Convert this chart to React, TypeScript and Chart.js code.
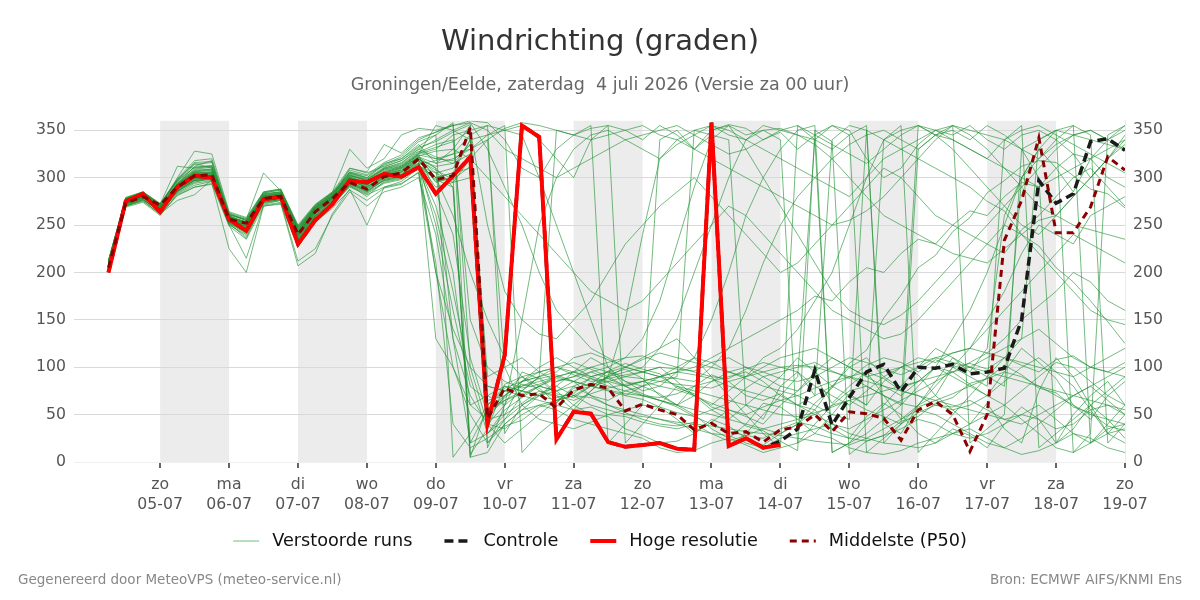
import React, { useEffect, useRef } from 'react';
import { Chart, registerables } from 'chart.js';

Chart.register(...registerables);

const FONT = "'DejaVu Sans', sans-serif";

// time axis: hours since 04-07 00:00, 6-hourly steps
const hours = Array.from({ length: 60 }, (_, i) => 6 + i * 6);

const tickHours = [24, 48, 72, 96, 120, 144, 168, 192, 216, 240, 264, 288, 312, 336, 360];
const dayNames = ['zo', 'ma', 'di', 'wo', 'do', 'vr', 'za', 'zo', 'ma', 'di', 'wo', 'do', 'vr', 'za', 'zo'];
const dayDates = ['05-07', '06-07', '07-07', '08-07', '09-07', '10-07', '11-07', '12-07', '13-07', '14-07', '15-07', '16-07', '17-07', '18-07', '19-07'];
const shadeStart = [24, 72, 120, 168, 216, 264, 312];
const shadeEnd = [48, 96, 144, 192, 240, 288, 336];
const yTicks = [0, 50, 100, 150, 200, 250, 300, 350];

const hires = [
  200, 275, 283, 264, 290, 302, 300, 256, 244, 277,
  280, 230, 255, 272, 297, 295, 304, 301, 311, 283,
  302, 322, 41, 113, 355, 343, 24, 53, 51, 21,
  16, 18, 20, 14, 13, 358, 17, 25, 15, 18,
];

const control = [
  200, 275, 283, 264, 290, 302, 300, 256, 244, 277,
  280, 230, 255, 272, 297, 295, 304, 301, 311, 283,
  302, 322, 41, 113, 355, 343, 24, 53, 51, 21,
  16, 18, 20, 14, 13, 358, 17, 25, 15, 22,
  35, 97, 39, 68, 95, 103, 74, 100, 99, 103,
  93, 95, 99, 150, 297, 273, 283, 338, 341, 329,
];

const p50 = [
  205, 273, 280, 271, 290, 302, 303, 256, 252, 278,
  280, 240, 264, 278, 295, 288, 301, 305, 320, 298,
  302, 353, 46, 78, 70, 72, 57, 76, 82, 78,
  54, 61, 55, 50, 34, 41, 30, 32, 21, 34,
  37, 50, 32, 53, 51, 46, 23, 55, 64, 50,
  11, 50, 234, 276, 342, 242, 242, 269, 322, 308,
];

const m01 = [208,276,282,266,292,305,300,254,246,280, 282,236,262,276,300,292,305,310,322,300, 305,340,45,70,82,78,62,80,88,84, 70,66,58,45,30,42,55,48,40,60, 75,90,62,80,95,70,45,60,85,110, 95,120,260,300,330,310,285,320,300,290];
const m02 = [210,274,279,268,288,300,306,260,250,276, 279,240,266,280,296,285,298,302,318,296, 300,8,35,82,90,75,68,72,90,95, 85,80,72,60,50,35,25,40,62,58, 45,30,50,72,60,85,100,92,70,55, 40,62,35,20,75,110,90,60,30,50];
const m03 = [212,278,284,272,312,310,312,262,255,282, 285,245,270,283,305,300,315,320,335,315, 330,355,15,60,95,88,70,55,75,92, 98,88,70,60,80,92,85,70,65,72, 60,55,80,100,110,90,78,85,100,95, 82,70,95,120,105,88,60,45,70,85];
const m04 = [206,270,276,262,276,282,298,250,240,272, 276,230,258,272,290,282,290,296,310,260, 180,90,30,55,68,80,75,60,50,48, 35,28,20,22,30,45,38,25,18,30, 40,55,35,25,48,62,50,30,20,35, 28,15,40,58,45,20,35,60,45,25];
const m05 = [209,275,281,267,293,312,318,258,248,279, 281,238,263,279,310,305,312,318,330,340, 350,358,330,290,250,200,160,140,120,110, 100,95,90,88,85,100,120,160,210,250, 280,300,320,335,345,350,340,330,345,350, 340,355,345,330,320,335,345,350,340,330];
const m06 = [207,272,280,264,286,295,300,252,236,275, 278,228,256,270,292,280,296,300,312,305, 295,320,60,78,85,90,72,68,80,76, 72,70,65,58,48,55,62,78,90,95, 100,105,96,88,102,110,105,95,108,100, 104,98,110,102,95,108,112,100,95,105];
const m07 = [211,277,283,270,300,328,325,264,258,285, 288,250,272,285,330,310,320,345,352,350, 355,360,358,340,310,300,330,345,352,355, 350,340,355,345,330,350,356,352,340,348, 330,345,355,350,320,300,310,335,350,345, 355,340,330,345,350,340,325,300,320,335];
const m08 = [205,271,277,265,285,298,302,256,245,277, 280,235,260,275,294,288,300,304,316,130, 100,50,20,45,70,80,90,85,70,65, 75,80,85,90,350,345,340,60,45,80, 95,70,340,355,350,40,30,60,70,100, 90,80,340,330,300,20,50,70,85,60];
const m09 = [213,279,285,273,298,315,310,260,253,284, 287,248,270,284,302,298,310,316,328,320, 318,335,90,100,110,95,85,90,100,105, 110,112,105,100,95,90,88,98,105,100, 95,80,70,60,75,90,100,110,105,115, 120,150,180,220,250,240,230,260,270,280];
const m10 = [204,269,274,260,282,290,294,225,200,270, 273,207,220,262,288,250,290,294,305,200, 140,100,80,75,70,65,60,55,58,50, 48,42,38,35,40,30,22,28,35,40, 45,50,60,65,55,48,40,52,60,58, 65,55,45,50,60,45,30,20,35,40];
const m11 = [208,273,280,268,290,303,305,257,252,278, 280,242,265,278,297,290,302,306,320,310, 290,5,60,80,75,70,85,90,95,88, 80,85,90,95,92,88,80,75,70,65, 60,70,80,90,95,88,75,70,60,55, 60,70,85,100,110,95,80,55,30,20];
const m12 = [210,276,282,270,292,306,304,258,254,280, 283,244,268,281,303,296,308,312,325,330, 345,350,250,180,150,135,130,150,170,200, 230,250,270,285,300,280,260,240,220,200, 210,230,250,270,290,310,300,280,260,250, 240,230,220,245,260,280,300,310,290,270];
const m13 = [207,274,281,266,287,299,301,255,249,277, 279,239,264,277,298,291,300,303,318,295, 300,320,340,100,60,45,40,35,42,50, 55,60,58,52,48,40,32,28,25,35, 42,38,30,25,22,28,35,45,40,30, 25,30,40,50,45,35,40,55,60,50];
const m14 = [209,277,283,269,295,308,309,259,247,281, 284,237,261,279,301,294,306,311,324,285, 240,110,50,65,72,80,88,85,80,90, 150,240,320,340,350,355,345,340,350,352, 345,335,320,300,280,260,250,240,230,220, 215,210,225,240,255,260,250,245,240,235];
const m15 = [206,272,279,267,289,297,299,253,242,274, 277,233,259,274,293,286,297,301,314,318, 325,345,355,30,60,70,75,80,70,60, 55,50,45,40,35,30,28,20,15,25, 30,35,40,30,25,20,18,15,20,30, 40,50,60,45,30,15,10,20,30,35];
const m16 = [212,278,284,271,297,314,316,261,256,305, 286,247,269,282,306,302,314,322,338,345, 358,5,10,40,55,70,80,95,110,100, 85,75,80,95,110,150,200,260,300,330, 350,355,10,20,40,60,80,100,120,110, 100,90,80,300,320,340,355,20,40,60];
const m17 = [208,275,281,265,291,304,303,255,250,279, 281,241,266,279,299,293,304,308,321,300, 305,310,80,75,90,95,100,92,85,88, 92,95,100,98,96,105,110,100,95,88, 85,90,100,110,105,98,92,100,110,105, 100,95,90,85,80,75,70,65,60,55];
const m18 = [207,273,278,263,286,298,300,254,244,276, 279,234,260,276,295,287,299,303,315,290, 295,300,20,40,55,60,65,70,68,60, 52,45,40,38,42,350,355,330,300,270, 240,210,180,160,150,145,155,170,190,210, 230,250,270,290,310,330,345,350,340,355];
const m19 = [211,276,283,271,294,309,311,260,251,282, 284,243,267,281,302,297,309,314,327,335, 340,150,100,85,78,82,90,95,88,80, 75,70,68,72,80,85,90,95,85,70, 60,50,40,35,45,55,65,75,85,95, 105,115,130,150,165,180,200,190,170,160];
const m20 = [209,274,280,267,289,301,303,257,251,278, 280,239,265,278,298,290,303,307,320,305, 310,340,70,60,150,250,300,330,345,350, 340,330,320,335,345,355,350,340,330,320, 310,300,290,280,300,320,330,340,350,355, 345,330,310,290,270,260,280,300,320,340];
const m21 = [205,270,276,261,283,292,296,250,215,271, 274,212,225,260,285,270,285,290,300,240, 130,70,40,35,50,60,55,45,40,35, 30,25,15,10,12,20,25,18,10,15, 20,30,25,15,10,8,12,20,25,30, 35,25,15,8,12,20,30,25,15,10];
const m22 = [210,276,283,269,293,307,307,258,253,281, 283,244,268,282,304,298,310,315,330,322, 315,325,30,50,85,95,100,105,98,90, 80,72,65,60,70,85,95,100,90,80, 75,95,110,100,90,80,70,85,100,90, 80,70,60,75,90,105,100,85,70,60];
const m23 = [208,275,282,268,291,302,302,256,248,279, 281,240,266,279,300,293,305,310,323,328, 330,320,300,280,260,240,220,200,180,170, 160,170,190,210,230,250,270,260,240,220, 200,180,160,150,140,130,135,150,170,190, 210,230,250,240,220,200,180,160,150,145];
const m24 = [206,271,277,264,284,294,297,251,238,273, 276,231,257,272,291,283,294,298,311,270, 200,60,45,50,62,75,70,65,72,78, 82,85,80,76,70,62,55,50,58,65, 70,78,85,90,80,70,62,58,65,72, 80,88,95,90,80,70,60,50,45,40];
const m25 = [211,277,284,272,296,311,313,261,255,283, 285,246,269,283,305,299,311,318,332,338, 348,356,40,20,35,50,65,75,80,85, 90,95,100,85,70,60,75,90,110,120, 140,170,200,250,300,340,355,10,30,50, 70,90,110,130,340,350,355,345,20,40];
const m26 = [207,273,279,266,288,299,301,255,245,276, 278,236,262,276,296,288,300,305,318,308, 298,312,55,65,75,90,95,110,115,108, 100,95,90,80,75,70,65,60,55,50, 48,52,58,65,70,75,80,85,90,95, 100,110,120,130,140,125,110,100,95,90];
const m27 = [210,276,283,270,293,306,308,259,252,280, 283,245,268,281,303,297,309,313,326,332, 338,350,355,350,345,300,250,200,150,100, 80,70,65,60,55,50,45,40,35,30, 40,62,78,104,118,152,176,205,218,243, 258,284,297,312,318,316,302,288,283,268];
const m28 = [206,272,278,263,285,296,298,252,241,274, 277,232,258,273,292,284,295,299,312,298, 290,20,30,45,60,72,80,70,60,55, 50,48,45,42,40,38,35,32,30,28, 25,22,20,18,25,35,45,55,50,40, 30,20,15,25,40,55,70,80,65,50];
const m29 = [209,275,281,267,290,304,306,257,250,279, 282,241,265,279,300,292,304,309,322,315, 320,330,345,355,10,30,45,60,75,90, 100,110,120,130,110,90,70,50,30,15, 355,340,330,345,355,20,40,60,80,100, 120,140,160,180,200,220,240,230,220,210];
const m30 = [208,274,280,265,289,300,302,254,247,277, 279,238,263,277,297,289,301,306,319,312, 315,335,50,68,80,85,90,95,100,95, 90,88,85,82,80,78,85,90,95,100, 102,100,95,90,85,80,75,70,65,60, 55,50,45,40,50,60,70,80,90,100];
const m31 = [212,279,285,272,299,318,320,263,257,285, 288,249,271,285,310,306,335,326,342,348, 355,358,350,330,320,310,300,310,320,330, 340,345,350,355,345,335,325,330,340,350, 355,345,335,325,315,330,345,355,350,340, 330,320,310,300,290,300,310,320,330,340];
const m32 = [207,272,279,265,287,297,299,253,243,275, 278,235,260,275,294,286,298,302,315,250, 160,80,65,70,85,100,110,100,90,95, 100,108,115,110,105,100,95,90,100,110, 115,120,110,100,90,95,100,105,110,115, 120,115,110,105,100,95,90,100,110,120];
const m33 = [207,275,281,268,292,305,306,257,251,279, 281,241,266,280,298,292,303,308,322,310, 130,20,55,70,85,90,350,345,355,20, 40,60,340,350,330,345,15,30,50,70, 90,340,355,345,10,25,40,330,345,355, 20,35,50,330,340,350,10,30,345,355];
const m34 = [209,276,283,269,294,307,309,259,253,281, 283,243,268,281,301,295,307,312,325,355, 350,340,345,350,355,340,320,300,340,355, 20,40,60,80,70,55,45,60,75,90, 110,95,80,70,60,340,350,355,345,330, 310,290,270,250,240,260,280,300,320,345];
const m35 = [206,271,277,264,286,297,299,252,242,274, 277,233,259,274,293,285,297,301,313,300, 260,200,150,110,90,80,75,85,95,100, 110,130,170,230,290,340,355,345,350,340, 20,40,60,75,80,70,60,355,345,340, 330,320,340,355,15,30,45,60,75,90];
const m36 = [211,277,284,271,297,311,312,261,255,283, 285,247,269,283,306,300,313,320,333,345, 5,30,60,75,80,88,92,85,80,75, 70,80,90,100,110,105,95,88,80,75, 70,60,50,45,350,340,330,320,310,300, 290,275,265,240,228,205,190,170,148,125];
const m37 = [208,274,280,266,290,302,303,256,249,278, 280,239,264,278,297,290,302,306,319,200, 100,60,70,80,75,70,65,70,80,90, 95,100,120,150,200,250,300,340,355,350, 345,340,10,20,30,45,60,80,100,130, 160,200,250,300,330,350,345,340,335,330];
const m38 = [210,275,282,269,293,305,304,257,252,280, 282,242,267,280,300,294,306,311,324,320, 325,330,340,352,358,355,350,345,340,345, 350,355,345,340,330,320,310,300,290,280, 270,260,250,255,265,280,300,320,340,355, 350,345,340,350,355,345,335,325,315,305];
const m39 = [205,270,275,262,281,290,293,249,235,270, 272,227,253,268,287,276,289,293,306,210, 40,15,25,38,44,58,63,78,82,96, 104,98,93,78,72,58,52,38,33,22, 12,350,338,8,22,28,43,48,62,68, 83,88,102,92,78,73,58,52,38,33];
const m40 = [212,278,285,272,298,316,317,262,256,284, 287,248,271,284,308,303,316,324,340,348, 356,100,40,60,75,90,100,95,90,85, 80,85,90,95,100,110,120,130,140,150, 160,175,170,190,205,200,220,235,230,250, 265,260,280,295,290,310,325,320,340,350];

const members = [m01, m02, m03, m04, m05, m06, m07, m08, m09, m10, m11, m12, m13, m14, m15, m16,
  m17, m18, m19, m20, m21, m22, m23, m24, m25, m26, m27, m28, m29, m30, m31, m32,
  m33, m34, m35, m36, m37, m38, m39, m40];

const ENS_COLOR = 'rgba(30,145,50,0.62)';
const CTRL_COLOR = '#1a1a1a';
const HIRES_COLOR = '#ff0000';
const P50_COLOR = '#8b0000';

const legendItems = [
  { text: 'Verstoorde runs', color: ENS_COLOR, width: 1, dash: [] as number[] },
  { text: 'Controle', color: CTRL_COLOR, width: 3.5, dash: [9, 5] },
  { text: 'Hoge resolutie', color: HIRES_COLOR, width: 4, dash: [] as number[] },
  { text: 'Middelste (P50)', color: P50_COLOR, width: 3, dash: [7, 5] },
];

const toPts = (arr: number[]) => arr.map((v, i) => ({ x: hours[i], y: v }));

const bandsPlugin = {
  id: 'bands',
  beforeDraw(chart: any) {
    const { ctx, chartArea, scales } = chart;
    const xs = scales.x;
    ctx.save();
    ctx.fillStyle = '#ececec';
    for (let i = 0; i < shadeStart.length; i++) {
      const x0 = xs.getPixelForValue(shadeStart[i]);
      const x1 = xs.getPixelForValue(shadeEnd[i]);
      ctx.fillRect(x0, chartArea.top, x1 - x0, chartArea.bottom - chartArea.top);
    }
    ctx.restore();
  },
};

const legendFooterPlugin = {
  id: 'legendFooter',
  afterDraw(chart: any) {
    const { ctx, width } = chart;
    ctx.save();
    // legend
    ctx.font = `17.7px ${FONT}`;
    ctx.textBaseline = 'middle';
    ctx.textAlign = 'left';
    const sample = 26, gap = 13, between = 32;
    const widths = legendItems.map((it) => ctx.measureText(it.text).width);
    const total = widths.reduce((a, w) => a + sample + gap + w, 0) + between * (legendItems.length - 1);
    let x = width / 2 - total / 2;
    const ly = 541;
    legendItems.forEach((it, i) => {
      ctx.save();
      ctx.strokeStyle = it.color;
      ctx.lineWidth = it.width;
      ctx.setLineDash(it.dash);
      ctx.beginPath();
      ctx.moveTo(x, ly);
      ctx.lineTo(x + sample, ly);
      ctx.stroke();
      ctx.restore();
      ctx.fillStyle = '#111111';
      ctx.fillText(it.text, x + sample + gap, ly);
      x += sample + gap + widths[i] + between;
    });
    // footer
    ctx.font = `13.5px ${FONT}`;
    ctx.fillStyle = '#888888';
    ctx.textAlign = 'left';
    ctx.fillText('Gegenereerd door MeteoVPS (meteo-service.nl)', 18, 580);
    ctx.textAlign = 'right';
    ctx.fillText('Bron: ECMWF AIFS/KNMI Ens', width - 18, 580);
    ctx.restore();
  },
};

export default function App() {
  const ref = useRef<HTMLCanvasElement | null>(null);

  useEffect(() => {
    if (!ref.current) return;
    Chart.defaults.font.family = FONT;

    const datasets: any[] = [
      {
        label: 'Middelste (P50)',
        data: toPts(p50),
        borderColor: P50_COLOR,
        borderWidth: 3,
        borderDash: [7, 5],
        pointRadius: 0,
        fill: false,
        order: 0,
      },
      {
        label: 'Hoge resolutie',
        data: toPts(hires),
        borderColor: HIRES_COLOR,
        borderWidth: 4,
        pointRadius: 0,
        fill: false,
        order: 1,
      },
      {
        label: 'Controle',
        data: toPts(control),
        borderColor: CTRL_COLOR,
        borderWidth: 3.5,
        borderDash: [9, 5],
        pointRadius: 0,
        fill: false,
        order: 2,
      },
      ...members.map((m, k) => ({
        label: 'Verstoorde runs ' + (k + 1),
        data: toPts(m),
        borderColor: ENS_COLOR,
        borderWidth: 1,
        pointRadius: 0,
        fill: false,
        order: 3,
      })),
    ];

    const chart = new Chart(ref.current, {
      type: 'line',
      data: { datasets },
      plugins: [bandsPlugin, legendFooterPlugin],
      options: {
        responsive: false,
        maintainAspectRatio: false,
        animation: false,
        devicePixelRatio: 1,
        layout: { padding: { top: 10, bottom: 88, left: 0, right: 0 } },
        scales: {
          x: {
            type: 'linear',
            min: -6,
            max: 360,
            afterBuildTicks: (scale: any) => {
              scale.ticks = tickHours.map((v) => ({ value: v }));
            },
            afterFit: (scale: any) => {
              scale.height = 50;
            },
            ticks: {
              autoSkip: false,
              maxRotation: 0,
              color: '#555555',
              padding: 7,
              font: { size: 15.7, lineHeight: 1.27 },
              callback: (v: any) => {
                const idx = tickHours.indexOf(Number(v));
                return idx >= 0 ? [dayNames[idx], dayDates[idx]] : '';
              },
            },
            grid: {
              drawOnChartArea: false,
              drawTicks: true,
              tickLength: 6,
              tickWidth: 2,
              tickColor: '#666666',
              lineWidth: 2,
            },
            border: { display: false },
          },
          y: {
            position: 'left',
            min: 0,
            max: 360,
            afterBuildTicks: (scale: any) => {
              scale.ticks = yTicks.map((v) => ({ value: v }));
            },
            afterFit: (scale: any) => {
              scale.width = 74;
            },
            ticks: { color: '#555555', padding: 8, font: { size: 15.7 } },
            grid: {
              drawTicks: false,
              color: (c: any) => (c.tick && c.tick.value === 0 ? '#f0f0f0' : '#d9d9d9'),
              lineWidth: 1,
            },
            border: { display: false },
          },
          y2: {
            position: 'right',
            min: 0,
            max: 360,
            afterBuildTicks: (scale: any) => {
              scale.ticks = yTicks.map((v) => ({ value: v }));
            },
            afterFit: (scale: any) => {
              scale.width = 75;
            },
            ticks: { color: '#555555', padding: 8, font: { size: 15.7 } },
            grid: { drawOnChartArea: false, drawTicks: false },
            border: { display: true, color: '#ebebeb' },
          },
        },
        plugins: {
          title: {
            display: true,
            text: 'Windrichting (graden)',
            color: '#333333',
            font: { size: 29, weight: 'normal' },
            padding: { top: 15, bottom: 15 },
          },
          subtitle: {
            display: true,
            text: 'Groningen/Eelde, zaterdag  4 juli 2026 (Versie za 00 uur)',
            color: '#666666',
            font: { size: 17.5, weight: 'normal' },
            padding: { top: 0, bottom: 25 },
          },
          legend: { display: false },
          tooltip: { enabled: false },
        },
      } as any,
    });

    return () => chart.destroy();
  }, []);

  return (
    <div style={{ position: 'absolute', left: 0, top: 0, width: 1200, height: 600, background: '#ffffff' }}>
      <canvas ref={ref} width={1200} height={600} style={{ display: 'block', width: 1200, height: 600 }} />
    </div>
  );
}
